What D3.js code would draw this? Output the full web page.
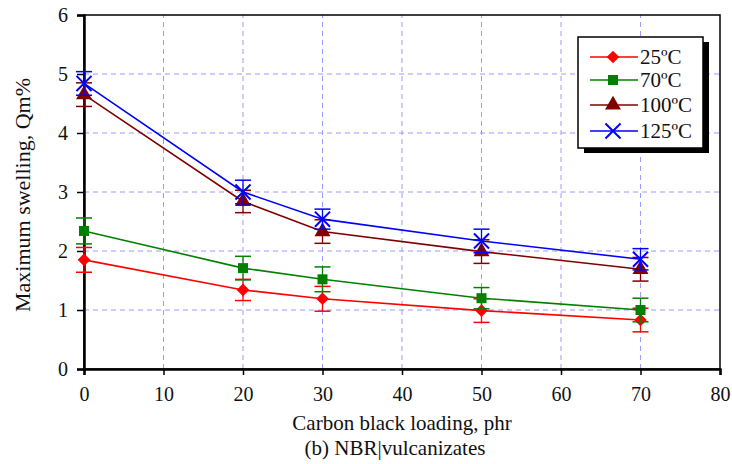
<!DOCTYPE html>
<html>
<head>
<meta charset="utf-8">
<script src="https://cdn.jsdelivr.net/npm/d3@7"></script>
<style>
  body { margin: 0; background: #fff; }
  svg text { font-family: "Liberation Serif", "Times New Roman", serif; fill: #111; }
</style>
</head>
<body>
<svg id="chart" width="732" height="464"></svg>
<script>
// carbon black loading, phr
var loading = [0, 20, 30, 50, 70]
var seriesNames = ["25\u00BAC", "70\u00BAC", "100\u00BAC", "125\u00BAC"]
var swell25 = [1.85, 1.34, 1.19, 0.99, 0.83]
var swell70 = [2.34, 1.71, 1.52, 1.20, 1.00]
var swell100 = [4.65, 2.84, 2.33, 1.99, 1.69]
var swell125 = [4.84, 3.00, 2.54, 2.17, 1.86]
var err25 = [0.21, 0.18, 0.21, 0.2, 0.2]
var err70 = [0.22, 0.2, 0.21, 0.18, 0.2]
var err100 = [0.2, 0.19, 0.2, 0.2, 0.2]
var err125 = [0.2, 0.2, 0.17, 0.2, 0.18]
var xTicks = [0, 10, 20, 30, 40, 50, 60, 70, 80]
var yTicks = [0, 1, 2, 3, 4, 5, 6]

var dims = {
    width: 732,
    height: 464,
    margin: { top: 15, bottom: 95, left: 84, right: 12 }
}

var serif = "'Liberation Serif', 'Times New Roman', serif"

var series = [
    { name: seriesNames[0], values: swell25, err: err25, color: "#ff0000", shape: "diamond" },
    { name: seriesNames[1], values: swell70, err: err70, color: "#008000", shape: "square" },
    { name: seriesNames[2], values: swell100, err: err100, color: "#800000", shape: "triangle" },
    { name: seriesNames[3], values: swell125, err: err125, color: "#0000ff", shape: "cross" }
]

var svg = d3.select("#chart")

var xScale = d3.scaleLinear()
        .domain([0, 80])
        .range([dims.margin.left, dims.width - dims.margin.right])

var yScale = d3.scaleLinear()
        .domain([0, 6])
        .range([dims.height - dims.margin.bottom, dims.margin.top])

// grid
var grid = svg.append("g")
grid.selectAll(".vgrid")
        .data(xTicks.slice(1, -1))
        .enter()
        .append("line")
        .attr("x1", d => xScale(d)).attr("x2", d => xScale(d))
        .attr("y1", yScale(0)).attr("y2", yScale(6))
        .attr("stroke", "#9a9aff")
        .attr("stroke-dasharray", "5,4")
grid.selectAll(".hgrid")
        .data(yTicks.slice(1, -1))
        .enter()
        .append("line")
        .attr("x1", xScale(0)).attr("x2", xScale(80))
        .attr("y1", d => yScale(d)).attr("y2", d => yScale(d))
        .attr("stroke", "#9a9aff")
        .attr("stroke-dasharray", "5,4")

// frame
svg.append("rect")
        .attr("x", xScale(0))
        .attr("y", yScale(6))
        .attr("width", xScale(80) - xScale(0))
        .attr("height", yScale(0) - yScale(6))
        .attr("fill", "none")
        .attr("stroke", "#000")
        .attr("stroke-width", 1.5)

// axes
var xAxisGen = d3.axisBottom().scale(xScale)
        .tickValues(xTicks)
        .tickFormat(d3.format("d"))
        .tickSize(6)
        .tickPadding(12)
var xAxis = svg.append("g")
        .call(xAxisGen)
        .attr("font-family", serif)
        .attr("font-size", 20)
        .style("transform", `translate(0px, ${yScale(0)}px)`)

var yAxisGen = d3.axisLeft().scale(yScale)
        .tickValues(yTicks)
        .tickFormat(d3.format("d"))
        .tickSize(7)
        .tickPadding(9)
var yAxis = svg.append("g")
        .call(yAxisGen)
        .attr("font-family", serif)
        .attr("font-size", 20)
        .style("transform", `translate(${xScale(0)}px, 0px)`)

svg.selectAll(".domain").attr("stroke", "#000").attr("stroke-width", 2.5)
svg.selectAll(".tick line").attr("stroke", "#000").attr("stroke-width", 1.5)

// titles
svg.append("text")
        .attr("x", 402)
        .attr("y", 430)
        .attr("text-anchor", "middle")
        .attr("font-family", serif)
        .attr("font-size", 21)
        .text("Carbon black loading, phr")
svg.append("text")
        .attr("x", 395)
        .attr("y", 455)
        .attr("text-anchor", "middle")
        .attr("font-family", serif)
        .attr("font-size", 21)
        .text("(b) NBR|vulcanizates")
svg.append("text")
        .attr("transform", "rotate(-90)")
        .attr("x", -195)
        .attr("y", 30)
        .attr("text-anchor", "middle")
        .attr("font-family", serif)
        .attr("font-size", 22)
        .text("Maximum swelling, Qm%")

// lines
var lineGen = d3.line()
        .x(d => xScale(d[0]))
        .y(d => yScale(d[1]))

var drawMarker = function(sel, shape, color) {
    if (shape == "diamond") {
        sel.append("path")
                .attr("d", d3.symbol().type(d3.symbolSquare).size(80)())
                .attr("transform", "rotate(45)")
                .attr("fill", color)
    } else if (shape == "square") {
        sel.append("path")
                .attr("d", d3.symbol().type(d3.symbolSquare).size(100)())
                .attr("fill", color)
    } else if (shape == "triangle") {
        sel.append("path")
                .attr("d", d3.symbol().type(d3.symbolTriangle).size(110)())
                .attr("fill", color)
    } else {
        sel.append("path")
                .attr("d", d3.symbol().type(d3.symbolX).size(150)())
                .attr("fill", "none")
                .attr("stroke", color)
                .attr("stroke-width", 2)
    }
}

series.forEach(function(s) {
    var pts = loading.map((x, i) => [x, s.values[i], s.err[i]])
    var g = svg.append("g")

    g.append("path")
            .datum(pts)
            .attr("d", lineGen)
            .attr("fill", "none")
            .attr("stroke", s.color)
            .attr("stroke-width", 1.6)

    // error bars
    var eb = g.selectAll(".err")
            .data(pts)
            .enter()
            .append("g")
    eb.append("line")
            .attr("x1", d => xScale(d[0])).attr("x2", d => xScale(d[0]))
            .attr("y1", d => yScale(d[1] - d[2])).attr("y2", d => yScale(d[1] + d[2]))
            .attr("stroke", s.color).attr("stroke-width", 1.3)
    eb.append("line")
            .attr("x1", d => xScale(d[0]) - 8).attr("x2", d => xScale(d[0]) + 8)
            .attr("y1", d => yScale(d[1] + d[2])).attr("y2", d => yScale(d[1] + d[2]))
            .attr("stroke", s.color).attr("stroke-width", 1.5)
    eb.append("line")
            .attr("x1", d => xScale(d[0]) - 8).attr("x2", d => xScale(d[0]) + 8)
            .attr("y1", d => yScale(d[1] - d[2])).attr("y2", d => yScale(d[1] - d[2]))
            .attr("stroke", s.color).attr("stroke-width", 1.5)

    var marks = g.selectAll(".mark")
            .data(pts)
            .enter()
            .append("g")
            .attr("transform", d => `translate(${xScale(d[0])},${yScale(d[1])})`)
    drawMarker(marks, s.shape, s.color)
})

// legend
var legend = svg.append("g")
legend.append("rect")
        .attr("x", 584).attr("y", 42)
        .attr("width", 125).attr("height", 111)
        .attr("fill", "#000")
legend.append("rect")
        .attr("x", 578).attr("y", 37)
        .attr("width", 125).attr("height", 111)
        .attr("fill", "#fff")
        .attr("stroke", "#000")
        .attr("stroke-width", 1.5)

var legendY = [57, 80, 105, 131]
series.forEach(function(s, i) {
    legend.append("line")
            .attr("x1", 590).attr("x2", 638)
            .attr("y1", legendY[i]).attr("y2", legendY[i])
            .attr("stroke", s.color).attr("stroke-width", 1.6)
    var m = legend.append("g")
            .attr("transform", `translate(613,${legendY[i]})`)
    drawMarker(m, s.shape, s.color)
    legend.append("text")
            .attr("x", 640)
            .attr("y", legendY[i] + 7)
            .attr("font-family", serif)
            .attr("font-size", 21)
            .text(s.name)
})
</script>
</body>
</html>
